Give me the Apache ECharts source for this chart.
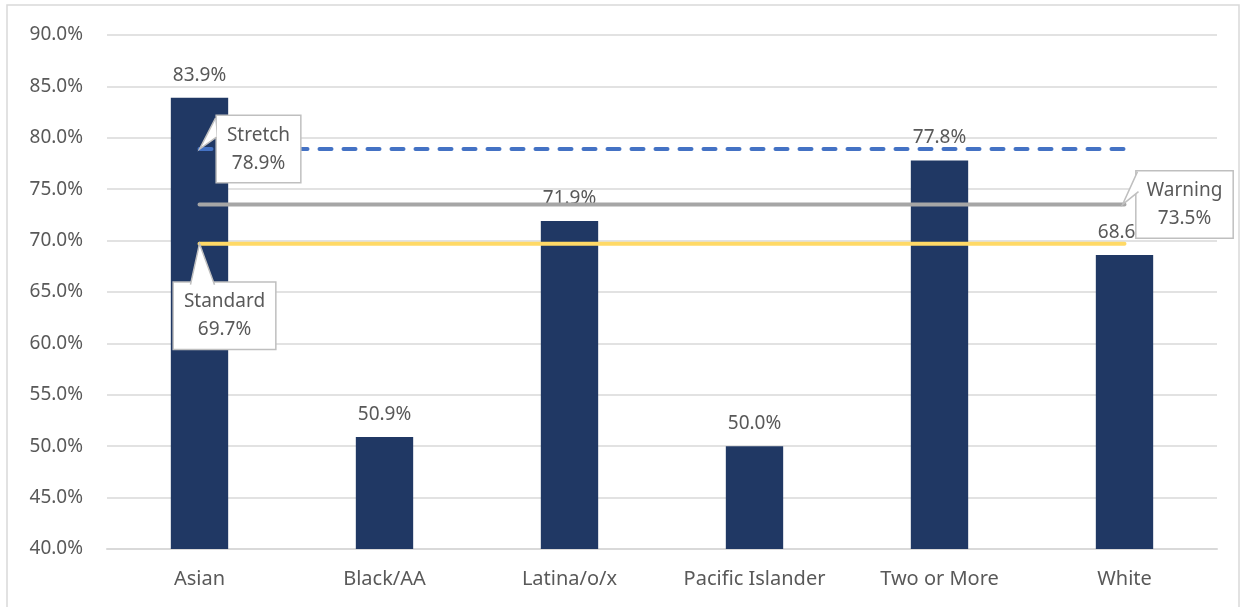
<!DOCTYPE html>
<html>
<head>
<meta charset="utf-8">
<script src="https://cdn.jsdelivr.net/npm/echarts@6/dist/echarts.min.js"></script>
<style>
  html, body { margin: 0; padding: 0; background: #fff; }
  #chart { width: 1244px; height: 607px; }
</style>
</head>
<body>
<div id="chart"></div>
<script>
  // categories and values (percent)
  const categories = ['Asian', 'Black/AA', 'Latina/o/x', 'Pacific Islander', 'Two or More', 'White'];
  const rates = [83.9, 50.9, 71.9, 50.0, 77.8, 68.6];
  // target lines
  const stretch = 78.9;
  const warning = 73.5;
  const standard = 69.7;
  const yTicks = [40, 45, 50, 55, 60, 65, 70, 75, 80, 85, 90];

  const font = '"Noto Sans", sans-serif';
  const textColor = '#595959';

  // a flat line over all categories, with a callout label on one end
  function targetLine(name, value, color, type, labelIdx, labelOpt) {
    let data = categories.map((c, i) => {
      if (i !== labelIdx) return value;
      return {
        value: value,
        label: Object.assign({
          show: true,
          formatter: name + '\n' + value.toFixed(1) + '%',
          color: textColor,
          fontFamily: font,
          fontSize: 19,
          lineHeight: 28,
          backgroundColor: '#fff',
          borderColor: '#BFBFBF',
          borderWidth: 1.5,
          padding: [5, 10, 5, 10],
          align: 'center'
        }, labelOpt)
      };
    });
    return {
      name: name,
      type: 'line',
      data: data,
      showSymbol: true,
      symbolSize: 0,
      z: 3,
      lineStyle: { color: color, width: 4, type: type, cap: 'round' },
      emphasis: { disabled: true }
    };
  }

  let myChart = echarts.init(document.getElementById('chart'));
  let option = {
    animation: false,
    backgroundColor: '#fff',
    grid: { left: 107, right: 27, top: 35, bottom: 58 },
    xAxis: {
      type: 'category',
      data: categories,
      axisTick: { show: false },
      axisLine: { lineStyle: { color: '#D9D9D9', width: 2 } },
      axisLabel: { color: textColor, fontFamily: font, fontSize: 20, margin: 20 }
    },
    yAxis: {
      type: 'value',
      min: yTicks[0],
      max: yTicks[yTicks.length - 1],
      interval: 5,
      axisLine: { show: false },
      axisTick: { show: false },
      splitLine: { lineStyle: { color: '#D9D9D9', width: 1.5 } },
      axisLabel: {
        color: textColor, fontFamily: font, fontSize: 19, margin: 24,
        formatter: v => v.toFixed(1) + '%'
      }
    },
    series: [
      {
        type: 'bar',
        data: rates,
        barWidth: '31%',
        itemStyle: { color: '#203864' },
        label: {
          show: true,
          position: 'top',
          distance: 13,
          color: textColor,
          fontFamily: font,
          fontSize: 19,
          formatter: p => p.value.toFixed(1) + '%'
        }
      },
      targetLine('Standard', standard, '#FFD966', 'solid', 0, { position: 'bottom', distance: 39, offset: [25, 0] }),
      targetLine('Warning', warning, '#A6A6A6', 'solid', 5, { position: 'right', distance: 13, offset: [47, 0] }),
      targetLine('Stretch', stretch, '#4472C4', [12, 12], 0, { position: 'right', distance: 15, offset: [44, 0] })
    ],
    graphic: [{
      type: 'rect',
      shape: { x: 7, y: 5, width: 1232, height: 610 },
      style: { fill: null, stroke: '#D9D9D9', lineWidth: 1.5 },
      silent: true
    }]
  };
  myChart.setOption(option);

  // callout pointers, placed from the axis scale
  function pointer(idx, value, pts) {
    let p = myChart.convertToPixel({ seriesIndex: 0 }, [idx, value]);
    let abs = pts.map(d => [p[0] + d[0], p[1] + d[1]]);
    return [{
      type: 'polygon',
      z: 100,
      shape: { points: abs },
      style: { fill: '#fff', stroke: null },
      silent: true
    }, {
      type: 'polyline',
      z: 101,
      shape: { points: [abs[1], abs[0], abs[2]] },
      style: { fill: null, stroke: '#BFBFBF', lineWidth: 1.5 },
      silent: true
    }];
  }
  let ptrs = [].concat(
    pointer(0, stretch, [[0, 0], [16, -31], [17, -12]]),
    pointer(0, standard, [[0, 0], [-9, 41], [15, 41]]),
    pointer(5, warning, [[-2, 0], [13, -33], [14, -13]])
  );
  myChart.setOption({ graphic: option.graphic.concat(ptrs) });
</script>
</body>
</html>
